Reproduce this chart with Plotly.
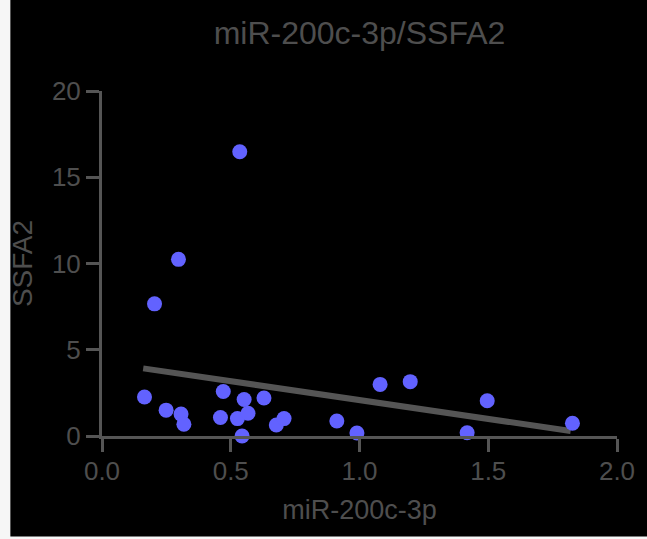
import plotly.graph_objects as go

# Data
mir_200c = [0.165, 0.204, 0.249, 0.297, 0.307, 0.318, 0.460, 0.471, 0.526, 0.535,
            0.544, 0.552, 0.567, 0.629, 0.677, 0.707, 0.912, 0.990, 1.080, 1.197,
            1.418, 1.496, 1.827]
ssfa2 = [2.26, 7.66, 1.50, 10.24, 1.27, 0.68, 1.07, 2.58, 1.01, 16.48,
         0.00, 2.12, 1.32, 2.20, 0.64, 1.01, 0.87, 0.17, 2.99, 3.15,
         0.19, 2.04, 0.74]
fit_x = [0.16, 1.82]
fit_y = [3.92, 0.29]

x_ticks = [0.0, 0.5, 1.0, 1.5, 2.0]
x_ticktext = ["0.0", "0.5", "1.0", "1.5", "2.0"]
y_ticks = [0, 5, 10, 15, 20]
y_ticktext = ["0", "5", "10", "15", "20"]

W, H = 647, 539
L, R, T, B = 102, 28, 91, 103
pw, ph = W - L - R, H - T - B

AX = "#555555"
TXT = "#4e4e4e"
FONT = "Liberation Sans, Arial, sans-serif"

fig = go.Figure()
fig.add_trace(go.Scatter(x=fit_x, y=fit_y, mode="lines",
                         line=dict(color=AX, width=6), hoverinfo="skip",
                         showlegend=False))
fig.add_trace(go.Scatter(x=mir_200c, y=ssfa2, mode="markers",
                         marker=dict(color="#6262FF", size=15, line=dict(width=0)),
                         cliponaxis=False, showlegend=False))

def px_x(p):
    return (p - L) / pw

def px_y(p):
    return (H - B - p) / ph

# light strips at left and bottom edges
fig.add_shape(type="rect", xref="paper", yref="paper",
              x0=px_x(-5), x1=px_x(10), y0=px_y(H + 5), y1=px_y(-5),
              fillcolor="#f6f6f6", line=dict(width=0), layer="below")
fig.add_shape(type="rect", xref="paper", yref="paper",
              x0=px_x(-5), x1=px_x(W + 5), y0=px_y(H + 5), y1=px_y(536.5),
              fillcolor="#f6f6f6", line=dict(width=0), layer="below")

axis_common = dict(showgrid=False, zeroline=False, showline=True,
                   linecolor=AX, linewidth=3, ticks="outside", ticklen=13,
                   tickwidth=3, tickcolor=AX,
                   tickfont=dict(family=FONT, size=26, color=TXT))

fig.update_layout(
    width=W, height=H,
    margin=dict(l=L, r=R, t=T, b=B),
    paper_bgcolor="#000000", plot_bgcolor="#000000",
    title=dict(text="miR-200c-3p/SSFA2", x=0.5, xref="paper", xanchor="center",
               y=1 - 33 / H, yref="container", yanchor="middle",
               font=dict(family=FONT, size=32, color=TXT)),
    xaxis=dict(range=[0, 2], tickvals=x_ticks, ticktext=x_ticktext,
               title=dict(text="miR-200c-3p", standoff=15,
                          font=dict(family=FONT, size=27, color=TXT)),
               ticklabelstandoff=-3, **axis_common),
    yaxis=dict(range=[0, 20], tickvals=y_ticks, ticktext=y_ticktext,
               title=dict(text="SSFA2", standoff=12,
                          font=dict(family=FONT, size=28, color=TXT)),
               ticklabelstandoff=0, **axis_common),
)

fig.write_html("out.html", config={"displayModeBar": False},
               post_script="document.body.style.margin='0';document.body.style.overflow='hidden';")
